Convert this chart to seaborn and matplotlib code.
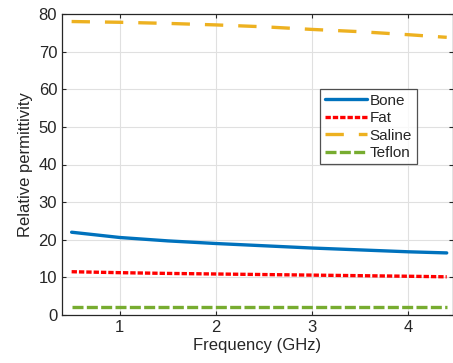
import numpy as np
import pandas as pd
import matplotlib
matplotlib.use("Agg")
import matplotlib.pyplot as plt
import seaborn as sns

# frequency points (GHz) and permittivity
freq = [0.5, 1.0, 1.5, 2.0, 2.5, 3.0, 3.5, 4.0, 4.4]
bone = [22.0, 20.6, 19.7, 19.0, 18.4, 17.8, 17.3, 16.8, 16.5]
fat = [11.5, 11.25, 11.05, 10.9, 10.75, 10.6, 10.45, 10.3, 10.15]
saline = [78.0, 77.8, 77.5, 77.1, 76.6, 75.9, 75.3, 74.5, 73.8]
teflon = [2.1, 2.1, 2.1, 2.1, 2.1, 2.1, 2.1, 2.1, 2.1]

materials = ["Bone", "Fat", "Saline", "Teflon"]
colors = {"Bone": "#0072BD", "Fat": "#FF0000", "Saline": "#EDB120", "Teflon": "#77AC30"}
dashes = {"Bone": "", "Fat": (1.6, 0.6), "Saline": (5.5, 4.5), "Teflon": (3.3, 1.0)}

df = pd.concat([
    pd.DataFrame({"freq": freq, "eps": vals, "material": name})
    for name, vals in zip(materials, [bone, fat, saline, teflon])
])

sns.set_style("white")
plt.rcParams['font.family'] = ['Liberation Sans', 'DejaVu Sans']

fig = plt.figure(figsize=(4.53, 3.63), dpi=100)
ax = fig.add_axes([62 / 453, 48 / 363, 390.5 / 453, 301 / 363])

sns.lineplot(data=df, x="freq", y="eps", hue="material", style="material",
             hue_order=materials, style_order=materials,
             palette=colors, dashes=dashes, linewidth=2.4, ax=ax)

ax.set_xlim(0.4, 4.46)
ax.set_ylim(0, 80)
ax.set_xticks([1, 2, 3, 4])
ax.set_yticks(range(0, 81, 10))
ax.grid(True, color="#e0e0e0", linewidth=0.8)
ax.set_axisbelow(True)
for s in ax.spines.values():
    s.set_color("#262626")
    s.set_linewidth(0.9)
ax.tick_params(direction="in", length=3, labelsize=12, colors="#262626",
               top=True, right=True, bottom=True, left=True)
ax.set_xlabel("Frequency (GHz)", fontsize=12, color="#262626", labelpad=2)
ax.set_ylabel("Relative permittivity", fontsize=12, color="#262626", labelpad=4)

leg = ax.legend(loc="upper right", bbox_to_anchor=(0.908, 0.75), fontsize=11,
                frameon=True, fancybox=False, edgecolor="#262626",
                handlelength=2.8, handletextpad=0.15, labelspacing=0.22,
                borderpad=0.3, borderaxespad=0)
leg.get_frame().set_linewidth(0.9)

fig.savefig("out.png", dpi=100)
